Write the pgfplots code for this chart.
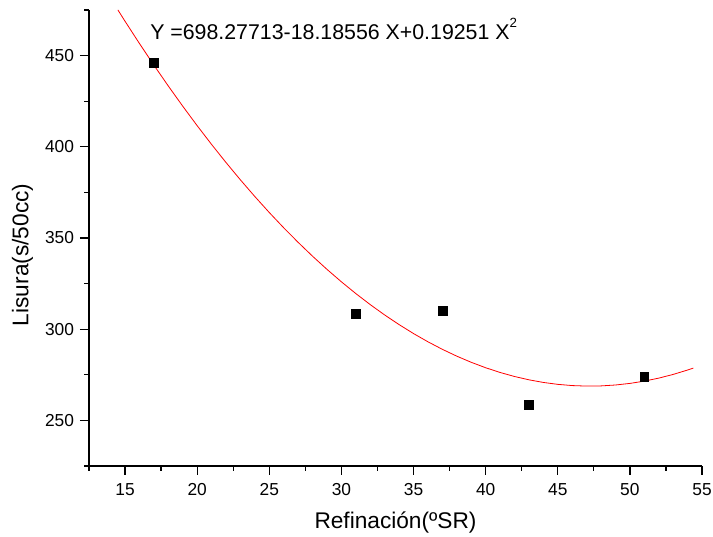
\documentclass[border=0pt]{standalone}
\usepackage{fontspec}
\setmainfont{Liberation Sans}
\usepackage{pgfplots}
\pgfplotsset{compat=1.18}
\begin{document}
\begin{tikzpicture}
\begin{axis}[
  scale only axis,
  width=459.75pt, height=342pt,
  xmin=12.5, xmax=55, ymin=225, ymax=475,
  axis x line=bottom, axis y line=left,
  axis line style={-, line width=1pt, black},
  xtick={15,20,...,55}, ytick={250,300,...,450},
  minor xtick={12.5,17.5,...,52.5},
  minor ytick={225,275,...,475},
  tick align=outside,
  major tick length=6.75pt, minor tick length=3.4pt,
  tick style={line width=1pt, black},
  /pgf/number format/assume math mode=true,
  ticklabel style={font=\fontsize{13}{15}\selectfont},
  xticklabel style={yshift=-3pt},
  yticklabel style={xshift=-1pt},
  xlabel={Refinación(ºSR)},
  ylabel={Lisura(s/50cc)},
  xlabel style={font=\fontsize{17}{19}\selectfont, at={(axis description cs:0.5,0)}, anchor=base, yshift=-47.25pt},
  ylabel style={font=\fontsize{17}{19}\selectfont, at={(axis description cs:-0.0987,0.463)}, anchor=base},
  clip=true,
]
\addplot[red, line width=0.6pt, mark=none] coordinates {
(14.5,475.06) (15,468.809) (16,456.591) (17,444.758) (18,433.310) (19,422.247)
(20,411.570) (21,401.277) (22,391.370) (23,381.847) (24,372.710) (25,363.957)
(26,355.589) (27,347.607) (28,340.009) (29,332.797) (30,325.969) (31,319.527)
(32,313.469) (33,307.797) (34,302.510) (35,297.607) (36,293.090) (37,288.957)
(38,285.210) (39,281.848) (40,278.871) (41,276.278) (42,274.071) (43,272.249)
(44,270.811) (45,269.760) (46,269.092) (47,268.811) (48,268.913) (49,269.402)
(50,270.274) (51,271.532) (52,273.175) (53,275.203) (54,277.616) (54.4,278.689)
};
\addplot[only marks, mark=square*, mark size=3.3pt, black] coordinates {
(17,446) (31,308.5) (37,310) (43,258.6) (51,274)
};
\node[anchor=base west, font=\fontsize{16}{18}\selectfont, inner sep=0pt] at (rel axis cs:0.0995,0.936) {Y =698.27713-18.18556 X+0.19251 X\raisebox{0.55em}{\fontsize{10}{12}\selectfont 2}};
\coordinate (bl) at (rel axis cs:0,0);
\coordinate (tr) at (rel axis cs:1,1);
\end{axis}
\pgfresetboundingbox
\path[use as bounding box] ([xshift=-66.75pt,yshift=-53.25pt]bl) rectangle ([xshift=8.25pt,yshift=7.5pt]tr);
\end{tikzpicture}
\end{document}
